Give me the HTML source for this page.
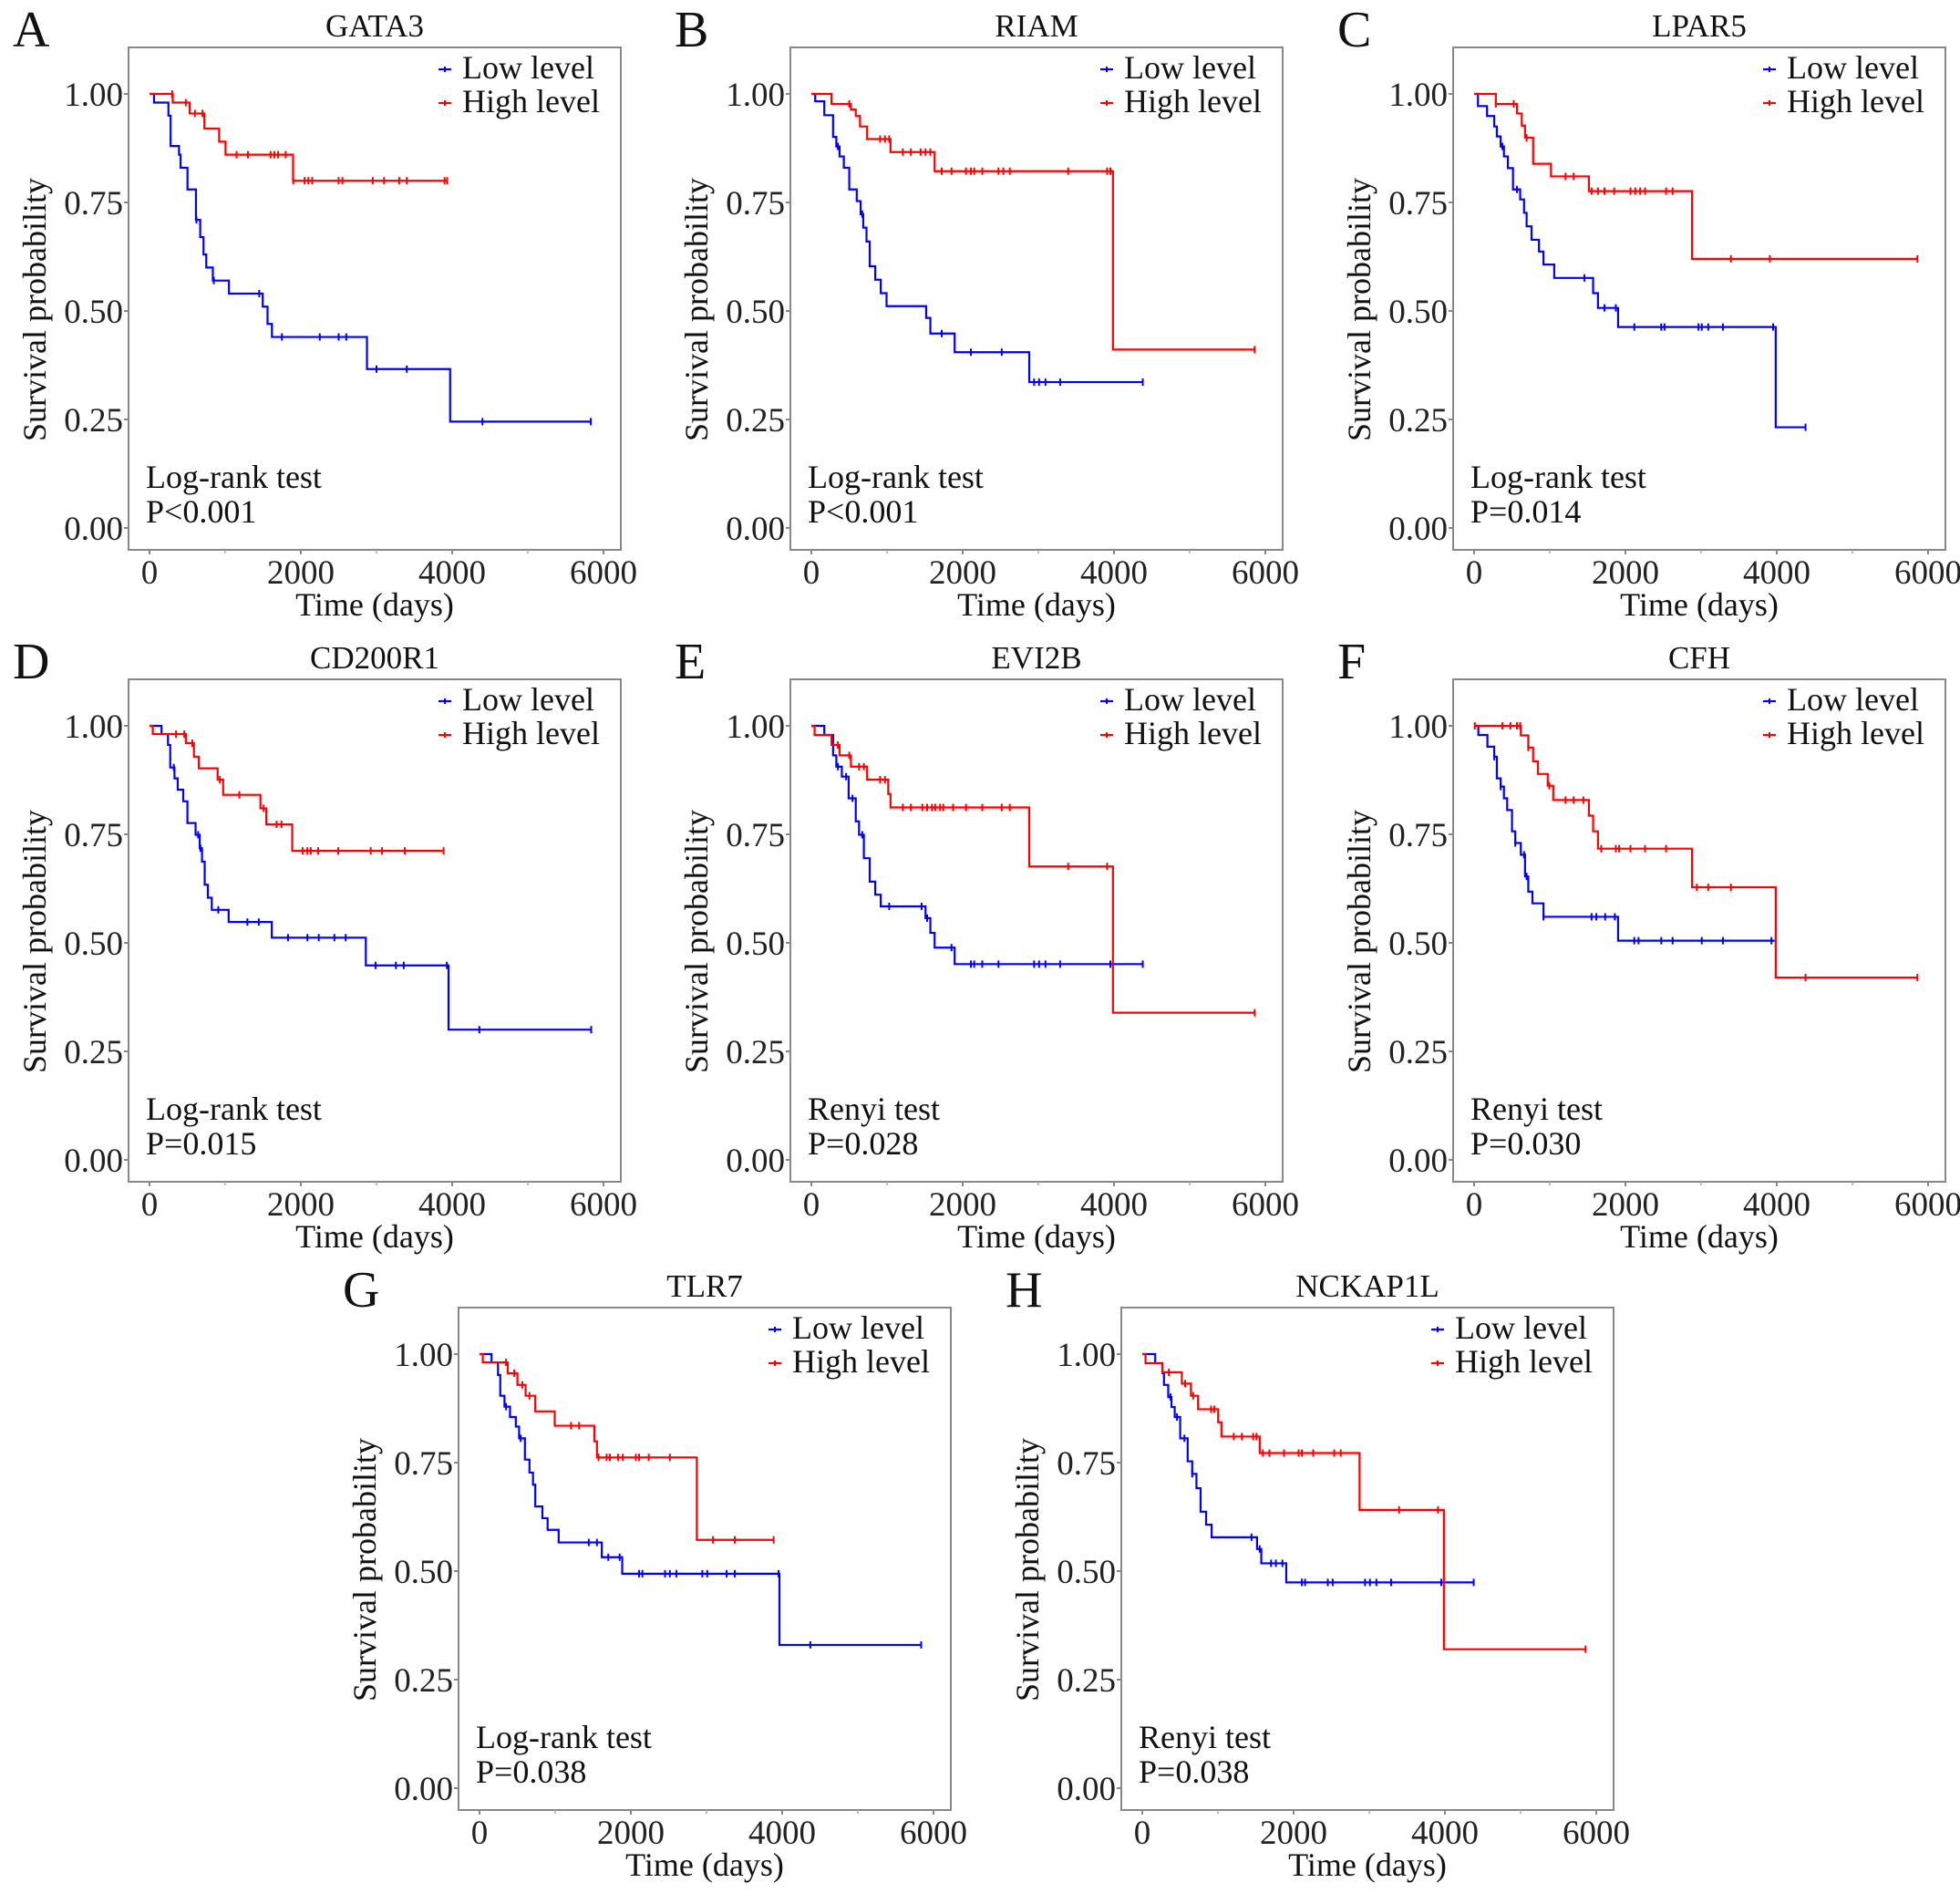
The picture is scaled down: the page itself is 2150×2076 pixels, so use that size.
<!DOCTYPE html>
<html><head><meta charset="utf-8">
<style>
html,body{margin:0;padding:0;background:#fff;}
svg{display:block;font-family:"Liberation Serif","Times New Roman",serif;}
svg text{font-family:"Liberation Serif","Times New Roman",serif;}
</style></head>
<body>
<svg id="fig" width="2150" height="2076" viewBox="0 0 2150 2076" xmlns="http://www.w3.org/2000/svg" font-family="Liberation Serif, serif"></svg>
<script>
// ---- data (time in days, survival probability) ----
const panelLetters = ["A","B","C","D","E","F","G","H"];
const panelTitles = ["GATA3","RIAM","LPAR5","CD200R1","EVI2B","CFH","TLR7","NCKAP1L"];
const testNames = ["Log-rank test","Log-rank test","Log-rank test","Log-rank test","Renyi test","Renyi test","Log-rank test","Renyi test"];
const pValues = ["P<0.001","P<0.001","P=0.014","P=0.015","P=0.028","P=0.030","P=0.038","P=0.038"];
const xTicks = [0,2000,4000,6000];
const xMinorTicks = [1000,3000,5000];
const yTicks = [0,0.25,0.5,0.75,1];
const yTickLabels = ["0.00","0.25","0.50","0.75","1.00"];

const A_lowT=[60,250,279,390,410,502,614,670,714,750,837,1050,1496,1560,1618,2874,3973];
const A_lowS=[.98,.95,.88,.86,.83,.78,.71,.67,.63,.60,.57,.54,.51,.47,.44,.366,.245];
const A_lowC=[620,850,1450,1750,2250,2500,2600,3000,3400,4400,5832];
const A_lowEnd=5832;
const A_highT=[307,530,725,920,1005,1897];
const A_highS=[.98,.955,.92,.89,.86,.80];
const A_highC=[300,480,600,700,1150,1300,1600,1650,1700,1800,1900,2050,2100,2150,2500,2550,2950,3100,3300,3400,3900,3934];
const A_highEnd=3934;

const B_lowT=[51,171,287,330,373,429,501,600,651,686,729,771,844,917,994,1517,1573,1894,2880];
const B_lowS=[.983,.951,.901,.879,.856,.830,.780,.753,.723,.692,.660,.603,.572,.541,.511,.484,.448,.405,.336];
const B_lowC=[351,673,1723,2109,2516,2944,3009,3094,3288,4380];
const B_lowEnd=4380;
const B_highT=[266,523,587,643,737,1046,1629,3986];
const B_highS=[.977,.964,.949,.925,.896,.866,.822,.411];
const B_highC=[501,909,973,1029,1209,1316,1444,1509,1573,1723,1852,2044,2109,2152,2259,2473,2537,2623,3394,3909,3952,5859];
const B_highEnd=5859;

const C_lowT=[51,171,266,300,351,394,446,514,609,660,694,759,857,917,1059,1573,1637,1903,3986];
const C_lowS=[.972,.949,.925,.902,.879,.856,.829,.780,.757,.726,.695,.664,.637,.607,.576,.541,.507,.463,.232];
const C_lowC=[373,566,1457,1723,1873,2117,2473,2516,2966,3009,3094,3288,3952,4380];
const C_lowEnd=4380;
const C_highT=[287,566,630,673,780,1016,1517,2880];
const C_highS=[.977,.955,.927,.899,.839,.810,.776,.620];
const C_highC=[287,523,694,1209,1316,1552,1637,1723,1852,2066,2130,2195,2259,2537,2623,3394,3909,5859];
const C_highEnd=5859;

const D_lowT=[159,244,274,330,373,446,501,609,664,694,729,771,823,1046,1616,2859,3952];
const D_lowS=[.981,.956,.904,.879,.853,.826,.776,.749,.718,.687,.634,.604,.576,.548,.512,.448,.300];
const D_lowC=[321,643,673,909,1294,1444,1830,2087,2237,2443,2593,2987,3256,3360,3930,4359,5837];
const D_lowEnd=5837;
const D_highT=[43,480,587,651,900,973,1466,1543,1886];
const D_highS=[.981,.960,.929,.902,.876,.841,.810,.773,.712];
const D_highC=[351,459,566,930,1187,1509,1680,1744,2023,2087,2130,2229,2494,2923,3073,3373,3887];
const D_highEnd=3887;

const E_lowT=[171,287,330,403,493,587,630,694,771,844,917,1509,1573,1629,1894];
const E_lowS=[.979,.932,.906,.883,.833,.780,.749,.695,.641,.611,.584,.557,.523,.489,.451];
const E_lowC=[351,459,544,673,1029,1457,1530,1852,2109,2152,2259,2473,2944,3009,3094,3288,3952,4380];
const E_lowEnd=4380;
const E_highT=[43,266,373,523,737,1016,1046,2880,3986];
const E_highS=[.979,.956,.932,.906,.876,.843,.812,.676,.339];
const E_highC=[351,501,630,694,909,973,1209,1316,1466,1530,1594,1637,1702,1744,1873,2044,2259,2516,2623,3394,3909,5859];
const E_highEnd=5859;

const F_lowT=[56,176,266,300,351,394,437,501,544,617,673,716,771,917,1903];
const F_lowS=[.979,.952,.929,.879,.860,.833,.806,.757,.730,.703,.653,.618,.591,.560,.505];
const F_lowC=[266,351,544,660,694,917,1552,1616,1732,1860,2117,2173,2473,2623,3009,3288,3930];
const F_lowEnd=3973;
const F_highT=[617,716,780,844,973,1046,1517,1573,1637,2880,3986];
const F_highS=[.978,.950,.918,.889,.862,.829,.793,.757,.717,.628,.420];
const F_highC=[9,373,480,566,609,716,994,1209,1316,1444,1680,1873,1916,2066,2259,2537,2944,3094,3394,4380,5859];
const F_highEnd=5859;

const G_lowT=[159,244,274,330,403,480,523,600,660,707,737,831,900,1046,1616,1886,3964];
const G_lowS=[.981,.952,.904,.879,.855,.833,.806,.757,.727,.699,.649,.622,.595,.566,.532,.494,.330];
const G_lowC=[351,544,1444,1552,1702,1852,2109,2152,2452,2516,2601,2944,3009,3266,3373,3952,4372,5837];
const G_lowEnd=5837;
const G_highT=[43,373,501,609,737,994,1517,1552,2872];
const G_highS=[.981,.956,.929,.904,.868,.835,.799,.762,.572];
const G_highC=[351,459,566,660,1209,1316,1573,1680,1723,1830,1894,2066,2109,2237,2516,3086,3373,3887];
const G_highEnd=3887;

const H_lowT=[171,266,287,343,386,429,501,600,660,716,771,844,917,1517,1573,1903];
const H_lowS=[.979,.956,.929,.901,.878,.855,.806,.753,.724,.691,.637,.607,.578,.551,.518,.474];
const H_lowC=[373,459,557,660,1444,1552,1702,1766,1852,2109,2152,2452,2516,2944,3009,3094,3288,3952,4380];
const H_lowEnd=4380;
const H_highT=[43,266,523,643,737,1003,1046,1552,2872,3986];
const H_highS=[.979,.958,.932,.904,.873,.843,.810,.772,.641,.320];
const H_highC=[351,566,673,909,951,1209,1316,1466,1509,1594,1680,1873,2066,2109,2259,2537,2623,3394,3909,5859];
const H_highEnd=5859;

const panelSeries = [
 [A_lowT,A_lowS,A_lowC,A_lowEnd,A_highT,A_highS,A_highC,A_highEnd],
 [B_lowT,B_lowS,B_lowC,B_lowEnd,B_highT,B_highS,B_highC,B_highEnd],
 [C_lowT,C_lowS,C_lowC,C_lowEnd,C_highT,C_highS,C_highC,C_highEnd],
 [D_lowT,D_lowS,D_lowC,D_lowEnd,D_highT,D_highS,D_highC,D_highEnd],
 [E_lowT,E_lowS,E_lowC,E_lowEnd,E_highT,E_highS,E_highC,E_highEnd],
 [F_lowT,F_lowS,F_lowC,F_lowEnd,F_highT,F_highS,F_highC,F_highEnd],
 [G_lowT,G_lowS,G_lowC,G_lowEnd,G_highT,G_highS,G_highC,G_highEnd],
 [H_lowT,H_lowS,H_lowC,H_lowEnd,H_highT,H_highS,H_highC,H_highEnd]
];

// ---- layout ----
const boxLefts=[141,867,1594,141,867,1594,503,1230];
const boxTops=[52,52,52,745,745,745,1434,1434];
const BW=540, BH=551;
const FF="Liberation Serif, Times New Roman, serif";
const NS="http://www.w3.org/2000/svg";
const svg=document.getElementById("fig");

function mk(tag,attrs,parent){
  const e=document.createElementNS(NS,tag);
  for(const k in attrs) e.setAttribute(k,attrs[k]);
  if(tag==="text") e.setAttribute("font-family",FF);
  (parent||svg).appendChild(e);
  return e;
}
function survAt(T,S,t){let s=1;for(let i=0;i<T.length;i++){if(T[i]<=t)s=S[i];}return s;}

for(let p=0;p<8;p++){
  const L=boxLefts[p], Tp=boxTops[p];
  const xs=v=>L+23+v*(498/6000);
  const ys=v=>Tp+527-v*476;
  const g=mk("g",{});
  
  

  const letter=mk("text",{x:L-127,y:Tp-1,"font-size":56,fill:"#111"},g);
  letter.textContent=panelLetters[p];
  
  

  const title=mk("text",{x:L+BW/2,y:Tp-12,"font-size":35,"text-anchor":"middle",fill:"#111"},g);
  title.textContent=panelTitles[p];
  
  

  const box=mk("rect",{x:L,y:Tp,width:BW,height:BH,fill:"none",stroke:"#888","stroke-width":2},g);
  
  

  yTicks.forEach((v,i)=>{
    const tk=mk("line",{x1:L-5,x2:L,y1:ys(v),y2:ys(v),stroke:"#888","stroke-width":2},g);
    
    
    const lb=mk("text",{x:L-6,y:ys(v)+13,"font-size":37,"text-anchor":"end",fill:"#222"},g);
    lb.textContent=yTickLabels[i];
    
    
  });
  xTicks.forEach(v=>{
    const tk=mk("line",{x1:xs(v),x2:xs(v),y1:Tp+BH,y2:Tp+BH+5,stroke:"#888","stroke-width":2},g);
    
    
    const lb=mk("text",{x:xs(v),y:Tp+BH+37,"font-size":37,"text-anchor":"middle",fill:"#222"},g);
    lb.textContent=String(v);
    
    
  });
  xMinorTicks.forEach(v=>{
    const tk=mk("line",{x1:xs(v),x2:xs(v),y1:Tp+BH,y2:Tp+BH+4,stroke:"#aaa","stroke-width":1.5},g);
    
    
  });

  const xt=mk("text",{x:L+BW/2,y:Tp+BH+72,"font-size":36,"text-anchor":"middle",fill:"#111"},g);
  xt.textContent="Time (days)";
  
  
  const cy=Tp+BH/2+12;
  const yt=mk("text",{x:L-103,y:cy,"font-size":36,"text-anchor":"middle",fill:"#111",transform:`rotate(-90 ${L-103} ${cy})`,"dominant-baseline":"central"},g);
  yt.textContent="Survival probability";
  
  

  const ser=panelSeries[p];
  [[0,"#0000ff","low-level"],[4,"#ff0000","high-level"]].forEach(([o,col,nm])=>{
    const T=ser[o],S=ser[o+1],C=ser[o+2],E=ser[o+3];
    let d=`M${xs(0)},${ys(1)}`;
    for(let i=0;i<T.length;i++){d+=` H${xs(T[i])} V${ys(S[i])}`;}
    d+=` H${xs(E)}`;
    const path=mk("path",{d:d,fill:"none",stroke:col,"stroke-width":2.2},g);
    
    
    C.forEach(t=>{
      const y=ys(survAt(T,S,t));
      const cm=mk("line",{x1:xs(t),x2:xs(t),y1:y-4,y2:y+4,stroke:col,"stroke-width":2},g);
      
      
    });
  });

  // legend
  [["Low level","#0000ff",34],["High level","#ff0000",71]].forEach(([txt,col,dy])=>{
    const lg=mk("g",{},g);
    
    
    const ln=mk("line",{x1:L+340,x2:L+354,y1:Tp+dy-10,y2:Tp+dy-10,stroke:col,"stroke-width":2.2},lg);
    
    
    const tk=mk("line",{x1:L+347,x2:L+347,y1:Tp+dy-13,y2:Tp+dy-7,stroke:col,"stroke-width":2},lg);
    
    
    const tx=mk("text",{x:L+366,y:Tp+dy,"font-size":36,fill:"#111"},lg);
    tx.textContent=txt;
    
    
  });

  const t1=mk("text",{x:L+19,y:Tp+483,"font-size":36,fill:"#111"},g);
  t1.textContent=testNames[p];
  
  
  const t2=mk("text",{x:L+19,y:Tp+521,"font-size":36,fill:"#111"},g);
  t2.textContent=pValues[p];
  
  
}
</script>
</body></html>
